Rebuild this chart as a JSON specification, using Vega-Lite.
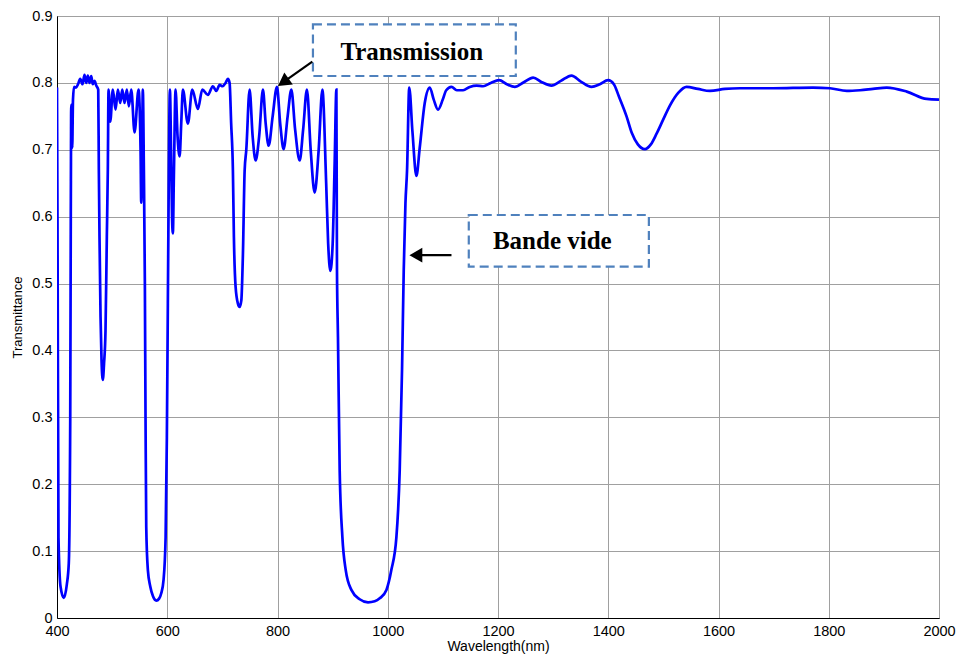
{
  "$schema": "https://vega.github.io/schema/vega-lite/v6.json",
  "width": 882,
  "height": 602,
  "autosize": {"type": "none"},
  "padding": {"left": 57, "top": 16, "right": 18, "bottom": 41},
  "background": "white",
  "config": {
    "view": {"stroke": "#000000", "strokeWidth": 1},
    "font": "Liberation Sans",
    "axis": {
      "labelFont": "Liberation Sans",
      "titleFont": "Liberation Sans",
      "labelColor": "#000000",
      "titleColor": "#000000",
      "titleFontWeight": "normal",
      "domainColor": "#000000",
      "gridColor": "#a0a0a0",
      "gridOpacity": 1,
      "gridWidth": 1,
      "ticks": false
    }
  },
  "datasets": {
    "curve": [
      {"wl": 400.0, "T": 0.793},
      {"wl": 400.9, "T": 0.60},
      {"wl": 402.7, "T": 0.12},
      {"wl": 406.4, "T": 0.047},
      {"wl": 412.3, "T": 0.030},
      {"wl": 417.8, "T": 0.05},
      {"wl": 421.4, "T": 0.082},
      {"wl": 424.0, "T": 0.296},
      {"wl": 425.0, "T": 0.595},
      {"wl": 425.8, "T": 0.767},
      {"wl": 426.9, "T": 0.767},
      {"wl": 427.6, "T": 0.703},
      {"wl": 429.0, "T": 0.775},
      {"wl": 430.9, "T": 0.794},
      {"wl": 434.5, "T": 0.793},
      {"wl": 438.1, "T": 0.798},
      {"wl": 442.1, "T": 0.806},
      {"wl": 446.3, "T": 0.798},
      {"wl": 449.9, "T": 0.812},
      {"wl": 453.0, "T": 0.800},
      {"wl": 455.9, "T": 0.811},
      {"wl": 459.0, "T": 0.800},
      {"wl": 462.1, "T": 0.810},
      {"wl": 465.0, "T": 0.798},
      {"wl": 468.1, "T": 0.803},
      {"wl": 471.2, "T": 0.796},
      {"wl": 474.8, "T": 0.790},
      {"wl": 475.9, "T": 0.670},
      {"wl": 477.1, "T": 0.570},
      {"wl": 479.0, "T": 0.450},
      {"wl": 480.8, "T": 0.385},
      {"wl": 483.1, "T": 0.356},
      {"wl": 485.3, "T": 0.380},
      {"wl": 488.0, "T": 0.430},
      {"wl": 490.4, "T": 0.570},
      {"wl": 492.2, "T": 0.670},
      {"wl": 493.5, "T": 0.790},
      {"wl": 496.6, "T": 0.742},
      {"wl": 501.3, "T": 0.790},
      {"wl": 506.2, "T": 0.760},
      {"wl": 510.4, "T": 0.790},
      {"wl": 514.7, "T": 0.770},
      {"wl": 518.4, "T": 0.790},
      {"wl": 522.5, "T": 0.770},
      {"wl": 526.7, "T": 0.790},
      {"wl": 530.3, "T": 0.765},
      {"wl": 534.7, "T": 0.790},
      {"wl": 540.7, "T": 0.726},
      {"wl": 547.9, "T": 0.790},
      {"wl": 551.6, "T": 0.700},
      {"wl": 552.8, "T": 0.621},
      {"wl": 554.3, "T": 0.700},
      {"wl": 555.7, "T": 0.790},
      {"wl": 557.6, "T": 0.670},
      {"wl": 559.4, "T": 0.500},
      {"wl": 560.6, "T": 0.300},
      {"wl": 561.9, "T": 0.136},
      {"wl": 564.8, "T": 0.072},
      {"wl": 569.2, "T": 0.047},
      {"wl": 574.3, "T": 0.032},
      {"wl": 580.1, "T": 0.026},
      {"wl": 585.2, "T": 0.029},
      {"wl": 589.1, "T": 0.037},
      {"wl": 593.3, "T": 0.057},
      {"wl": 597.0, "T": 0.120},
      {"wl": 599.3, "T": 0.270},
      {"wl": 601.1, "T": 0.470},
      {"wl": 602.9, "T": 0.670},
      {"wl": 604.8, "T": 0.790},
      {"wl": 606.9, "T": 0.700},
      {"wl": 608.7, "T": 0.600},
      {"wl": 610.2, "T": 0.575},
      {"wl": 612.0, "T": 0.660},
      {"wl": 615.1, "T": 0.790},
      {"wl": 618.7, "T": 0.720},
      {"wl": 622.4, "T": 0.690},
      {"wl": 625.4, "T": 0.740},
      {"wl": 628.4, "T": 0.790},
      {"wl": 637.4, "T": 0.739},
      {"wl": 645.4, "T": 0.790},
      {"wl": 655.6, "T": 0.761},
      {"wl": 663.6, "T": 0.790},
      {"wl": 673.7, "T": 0.782},
      {"wl": 682.8, "T": 0.795},
      {"wl": 689.0, "T": 0.788},
      {"wl": 695.0, "T": 0.797},
      {"wl": 700.4, "T": 0.795},
      {"wl": 705.9, "T": 0.800},
      {"wl": 710.0, "T": 0.806},
      {"wl": 713.1, "T": 0.800},
      {"wl": 715.9, "T": 0.740},
      {"wl": 719.1, "T": 0.669},
      {"wl": 720.9, "T": 0.570},
      {"wl": 724.0, "T": 0.495},
      {"wl": 728.2, "T": 0.470},
      {"wl": 731.3, "T": 0.465},
      {"wl": 734.4, "T": 0.475},
      {"wl": 737.3, "T": 0.545},
      {"wl": 740.4, "T": 0.669},
      {"wl": 743.4, "T": 0.700},
      {"wl": 749.4, "T": 0.790},
      {"wl": 754.9, "T": 0.720},
      {"wl": 760.3, "T": 0.684},
      {"wl": 766.7, "T": 0.720},
      {"wl": 773.6, "T": 0.790},
      {"wl": 778.5, "T": 0.740},
      {"wl": 784.0, "T": 0.706},
      {"wl": 791.2, "T": 0.750},
      {"wl": 799.0, "T": 0.794},
      {"wl": 804.8, "T": 0.740},
      {"wl": 811.1, "T": 0.701},
      {"wl": 818.4, "T": 0.750},
      {"wl": 825.1, "T": 0.790},
      {"wl": 832.0, "T": 0.730},
      {"wl": 840.2, "T": 0.684},
      {"wl": 846.5, "T": 0.730},
      {"wl": 853.4, "T": 0.790},
      {"wl": 860.2, "T": 0.700},
      {"wl": 867.4, "T": 0.636},
      {"wl": 874.7, "T": 0.700},
      {"wl": 881.4, "T": 0.790},
      {"wl": 888.3, "T": 0.650},
      {"wl": 891.9, "T": 0.560},
      {"wl": 895.9, "T": 0.519},
      {"wl": 900.1, "T": 0.560},
      {"wl": 903.7, "T": 0.680},
      {"wl": 906.8, "T": 0.790},
      {"wl": 907.9, "T": 0.520},
      {"wl": 909.7, "T": 0.420},
      {"wl": 912.8, "T": 0.221},
      {"wl": 917.7, "T": 0.121},
      {"wl": 923.7, "T": 0.072},
      {"wl": 934.0, "T": 0.042},
      {"wl": 949.1, "T": 0.028},
      {"wl": 964.2, "T": 0.0234},
      {"wl": 976.3, "T": 0.025},
      {"wl": 985.4, "T": 0.0294},
      {"wl": 997.6, "T": 0.042},
      {"wl": 1006.6, "T": 0.072},
      {"wl": 1015.7, "T": 0.121},
      {"wl": 1021.7, "T": 0.221},
      {"wl": 1025.9, "T": 0.371},
      {"wl": 1029.0, "T": 0.520},
      {"wl": 1032.1, "T": 0.620},
      {"wl": 1035.0, "T": 0.669},
      {"wl": 1039.0, "T": 0.793},
      {"wl": 1044.8, "T": 0.727},
      {"wl": 1052.0, "T": 0.661},
      {"wl": 1058.0, "T": 0.703},
      {"wl": 1067.1, "T": 0.770},
      {"wl": 1076.2, "T": 0.793},
      {"wl": 1083.4, "T": 0.775},
      {"wl": 1091.2, "T": 0.760},
      {"wl": 1099.8, "T": 0.775},
      {"wl": 1106.1, "T": 0.789},
      {"wl": 1115.6, "T": 0.794},
      {"wl": 1125.2, "T": 0.789},
      {"wl": 1136.6, "T": 0.789},
      {"wl": 1148.8, "T": 0.794},
      {"wl": 1161.0, "T": 0.796},
      {"wl": 1172.9, "T": 0.795},
      {"wl": 1186.9, "T": 0.800},
      {"wl": 1202.0, "T": 0.804},
      {"wl": 1216.0, "T": 0.798},
      {"wl": 1230.5, "T": 0.794},
      {"wl": 1246.8, "T": 0.801},
      {"wl": 1263.7, "T": 0.808},
      {"wl": 1279.5, "T": 0.801},
      {"wl": 1297.1, "T": 0.796},
      {"wl": 1314.0, "T": 0.803},
      {"wl": 1333.4, "T": 0.811},
      {"wl": 1350.3, "T": 0.802},
      {"wl": 1369.7, "T": 0.794},
      {"wl": 1384.8, "T": 0.798},
      {"wl": 1399.8, "T": 0.804},
      {"wl": 1410.2, "T": 0.798},
      {"wl": 1419.2, "T": 0.780},
      {"wl": 1433.2, "T": 0.750},
      {"wl": 1442.8, "T": 0.725},
      {"wl": 1453.7, "T": 0.708},
      {"wl": 1466.4, "T": 0.701},
      {"wl": 1477.3, "T": 0.708},
      {"wl": 1487.7, "T": 0.724},
      {"wl": 1499.6, "T": 0.745},
      {"wl": 1511.8, "T": 0.766},
      {"wl": 1526.9, "T": 0.785},
      {"wl": 1542.1, "T": 0.794},
      {"wl": 1562.6, "T": 0.791},
      {"wl": 1584.5, "T": 0.788},
      {"wl": 1611.7, "T": 0.791},
      {"wl": 1638.9, "T": 0.792},
      {"wl": 1698.8, "T": 0.792},
      {"wl": 1771.4, "T": 0.793},
      {"wl": 1802.3, "T": 0.792},
      {"wl": 1832.6, "T": 0.788},
      {"wl": 1856.7, "T": 0.789},
      {"wl": 1880.3, "T": 0.791},
      {"wl": 1905.2, "T": 0.793},
      {"wl": 1941.5, "T": 0.787},
      {"wl": 1977.8, "T": 0.776},
      {"wl": 2000.0, "T": 0.775}
    ],
    "boxes": [
      {"x1": 864.3, "x2": 1232.3, "y1": 0.8103, "y2": 0.8876, "label": "Transmission", "tx": 1043.5, "ty": 0.846},
      {"x1": 1147.0, "x2": 1473.7, "y1": 0.5252, "y2": 0.6025, "label": "Bande vide", "tx": 1298.5, "ty": 0.5629}
    ],
    "arrows": [
      {"xa": 863.2, "ya": 0.8317, "xb": 808.0, "yb": 0.7995},
      {"xa": 1115.6, "ya": 0.5425, "xb": 1050.0, "yb": 0.5425}
    ],
    "heads": [
      {"hx": 810.5, "hy": 0.8010, "ang": 235, "shape": "triangle-up"},
      {"hx": 1051.0, "hy": 0.5425, "ang": 0, "shape": "triangle-left"}
    ]
  },
  "layer": [
    {
      "data": {"name": "curve"},
      "mark": {"type": "line", "color": "#0000ff", "strokeWidth": 2.7, "interpolate": "monotone", "clip": true},
      "encoding": {
        "x": {
          "field": "wl", "type": "quantitative",
          "scale": {"domain": [400, 2000], "nice": false, "zero": false},
          "axis": {
            "title": "Wavelength(nm)", "values": [400, 600, 800, 1000, 1200, 1400, 1600, 1800, 2000],
            "format": "d",
            "labelFontSize": 14.5, "titleFontSize": 14, "labelPadding": 6, "titlePadding": 2,
            "grid": true, "labelFlush": false
          }
        },
        "y": {
          "field": "T", "type": "quantitative",
          "scale": {"domain": [0, 0.9], "nice": false},
          "axis": {
            "title": "Transmittance", "values": [0, 0.1, 0.2, 0.3, 0.4, 0.5, 0.6, 0.7, 0.8, 0.9],
            "labelExpr": "datum.value == 0 ? '0' : format(datum.value, '.1f')",
            "labelFontSize": 14.5, "titleFontSize": 13, "labelPadding": 5, "titlePadding": 7,
            "grid": true, "labelFlush": false
          }
        }
      }
    },
    {
      "data": {"name": "boxes"},
      "mark": {"type": "rect", "fill": "#ffffff", "stroke": "#4f81bd", "strokeWidth": 2.2, "strokeDash": [9, 5]},
      "encoding": {
        "x": {"field": "x1", "type": "quantitative"},
        "x2": {"field": "x2"},
        "y": {"field": "y1", "type": "quantitative"},
        "y2": {"field": "y2"}
      }
    },
    {
      "data": {"name": "boxes"},
      "mark": {"type": "text", "font": "Liberation Serif", "fontWeight": "bold", "fontSize": 25, "color": "#000000", "align": "center", "baseline": "middle"},
      "encoding": {
        "x": {"field": "tx", "type": "quantitative"},
        "y": {"field": "ty", "type": "quantitative"},
        "text": {"field": "label"}
      }
    },
    {
      "data": {"name": "arrows"},
      "mark": {"type": "rule", "color": "#000000", "strokeWidth": 2.2},
      "encoding": {
        "x": {"field": "xa", "type": "quantitative"},
        "y": {"field": "ya", "type": "quantitative"},
        "x2": {"field": "xb"},
        "y2": {"field": "yb"}
      }
    },
    {
      "data": {"name": "heads"},
      "mark": {"type": "point", "filled": true, "color": "#000000", "opacity": 1, "size": 220},
      "encoding": {
        "x": {"field": "hx", "type": "quantitative"},
        "y": {"field": "hy", "type": "quantitative"},
        "shape": {"field": "shape", "type": "nominal", "scale": null, "legend": null},
        "angle": {"field": "ang", "type": "quantitative", "scale": null}
      }
    }
  ]
}
